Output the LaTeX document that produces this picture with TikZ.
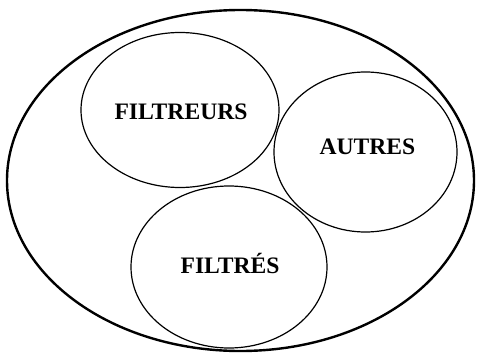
\documentclass[tikz,border=0pt]{standalone}
\usepackage{fontspec}
\setmainfont{Liberation Serif}
\usetikzlibrary{shapes.geometric}

\tikzset{
    subset/.style={draw, ellipse, line width=1.2pt, inner sep=0pt},
    name label/.style={font=\fontsize{23.6}{25}\selectfont\bfseries}
}

\begin{document}
\begin{tikzpicture}[x=1pt, y=-1pt]
    \useasboundingbox (0,0) rectangle (477,353);

    % Whole population
    \node[draw, ellipse, line width=2.4pt, minimum width=467pt, minimum height=341pt] (tous) at (240.5,180.5) {};

    % Groups
    \node[subset, minimum width=198pt, minimum height=155pt] (filtreurs) at (180,110) {};
    \node[subset, minimum width=183pt, minimum height=160pt] (autres) at (365.5,152) {};
    \node[subset, minimum width=196pt, minimum height=162pt] (filtres) at (229,267) {};

    % Group names
    \node[name label] (filtreurs-txt) at (181,112) {FILTREURS};
    \node[name label] (autres-txt) at (367.5,147) {AUTRES};
    \node[name label] (filtres-txt) at (230,263) {FILTRÉS};
\end{tikzpicture}
\end{document}
